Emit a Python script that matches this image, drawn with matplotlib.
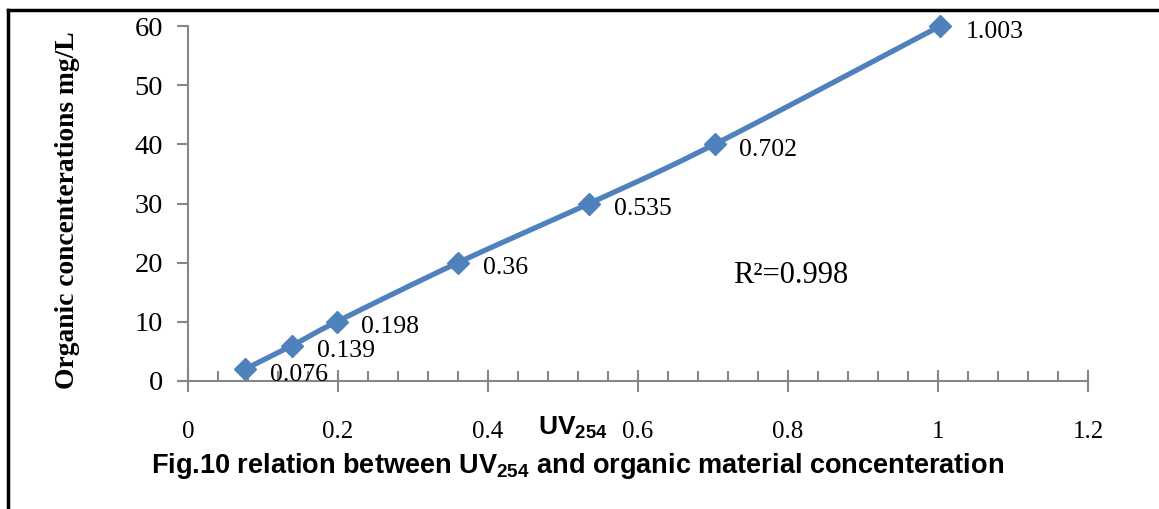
import numpy as np
import matplotlib
matplotlib.use("Agg")
import matplotlib.pyplot as plt
from matplotlib.lines import Line2D
from matplotlib.ticker import MultipleLocator

plt.rcParams["mathtext.fontset"] = "custom"
plt.rcParams["mathtext.rm"] = "Liberation Sans:bold"
plt.rcParams["mathtext.bf"] = "Liberation Sans:bold"

# Calibration data
uv254 = [0.076, 0.139, 0.198, 0.36, 0.535, 0.702, 1.003]
concentration = [2, 6, 10, 20, 30, 40, 60]
point_labels = ["0.076", "0.139", "0.198", "0.36", "0.535", "0.702", "1.003"]
x_ticks = [0, 0.2, 0.4, 0.6, 0.8, 1, 1.2]
x_tick_labels = ["0", "0.2", "0.4", "0.6", "0.8", "1", "1.2"]
y_ticks = [0, 10, 20, 30, 40, 50, 60]
r2_text = "R\u00b2=0.998"

LINE_BLUE = "#4F81BD"
AXIS_GRAY = "#868686"
SERIF = "Liberation Serif"
SANS = "Liberation Sans"

W, H, DPI = 1159, 509, 100
fig = plt.figure(figsize=(W / DPI, H / DPI), dpi=DPI)
ax = fig.add_axes([188 / W, 1 - 381 / H, 900 / W, 355 / H])
ax.set_xlim(0, 1.2)
ax.set_ylim(0, 60)


def smooth_curve(xs, ys, xr, yr, n=30):
    """Catmull-Rom style smoothing, computed in normalised axis space."""
    px = np.asarray(xs, float) / xr
    py = np.asarray(ys, float) / yr
    pts = np.column_stack([px, py])
    ext = np.vstack([pts[0] * 2 - pts[1], pts, pts[-1] * 2 - pts[-2]])
    out = []
    for i in range(1, len(ext) - 2):
        p0, p1, p2, p3 = ext[i - 1], ext[i], ext[i + 1], ext[i + 2]
        c1 = p1 + (p2 - p0) / 6
        c2 = p2 - (p3 - p1) / 6
        t = np.linspace(0, 1, n)[:, None]
        seg = ((1 - t) ** 3) * p1 + 3 * ((1 - t) ** 2) * t * c1 + 3 * (1 - t) * t ** 2 * c2 + t ** 3 * p2
        out.append(seg if i == 1 else seg[1:])
    out = np.vstack(out)
    return out[:, 0] * xr, out[:, 1] * yr


sx, sy = smooth_curve(uv254, concentration, 1.2, 60)
ax.plot(sx, sy, color=LINE_BLUE, lw=3.8, solid_capstyle="round", zorder=3, clip_on=False)
ax.plot(uv254, concentration, linestyle="none", marker="D", markersize=11.5,
        color=LINE_BLUE, zorder=4, clip_on=False)

for xv, yv, lab in zip(uv254, concentration, point_labels):
    ax.annotate(lab, (xv, yv), xytext=(18, -4), textcoords="offset points",
                ha="left", va="center", fontsize=18.5, family=SERIF)

ax.text(0.727, 17.9, r2_text, fontsize=22, family=SERIF, ha="left", va="center")

# Axes styling
for side in ("top", "right"):
    ax.spines[side].set_visible(False)
for side in ("left", "bottom"):
    ax.spines[side].set_color(AXIS_GRAY)
    ax.spines[side].set_linewidth(1.5)
ax.spines["bottom"].set_bounds(-0.012, 1.2)

ax.set_xticks(x_ticks)
ax.set_xticklabels(x_tick_labels, family=SERIF, fontsize=18)
ax.xaxis.set_minor_locator(MultipleLocator(0.04))
ax.tick_params(axis="x", which="major", direction="inout", length=16, width=1.5,
               color=AXIS_GRAY, pad=21)
ax.tick_params(axis="x", which="minor", direction="in", length=7, width=1.5,
               color=AXIS_GRAY)
ax.set_yticks(y_ticks)
ax.set_yticklabels([str(v) for v in y_ticks], family=SERIF, fontsize=20.5)
ax.tick_params(axis="y", which="major", direction="out", length=8, width=1.5,
               color=AXIS_GRAY, pad=10)

fig.text(68 / W, 1 - 210 / H, "Organic concenterations mg/L", rotation=90,
         ha="center", va="center", fontsize=19.8, fontweight="bold", family=SERIF)

fig.text(573 / W, 1 - 428 / H, r"$\mathbf{UV}_{\mathbf{254}}$", ha="center",
         va="center", fontsize=19)

fig.text(578 / W, 1 - 466 / H,
         r"Fig.10 relation between UV$_{\mathbf{254}}$ and organic material concenteration",
         ha="center", va="center", fontsize=19.5, fontweight="bold", family=SANS)

# Frame around the figure
fig.add_artist(Line2D([8 / W, 8 / W], [0, 1 - 10 / H], color="black", lw=2.5,
                      transform=fig.transFigure))
fig.add_artist(Line2D([8 / W, 1], [1 - 10 / H, 1 - 10 / H], color="black", lw=2.5,
                      transform=fig.transFigure))

fig.savefig("out.png", dpi=DPI)
